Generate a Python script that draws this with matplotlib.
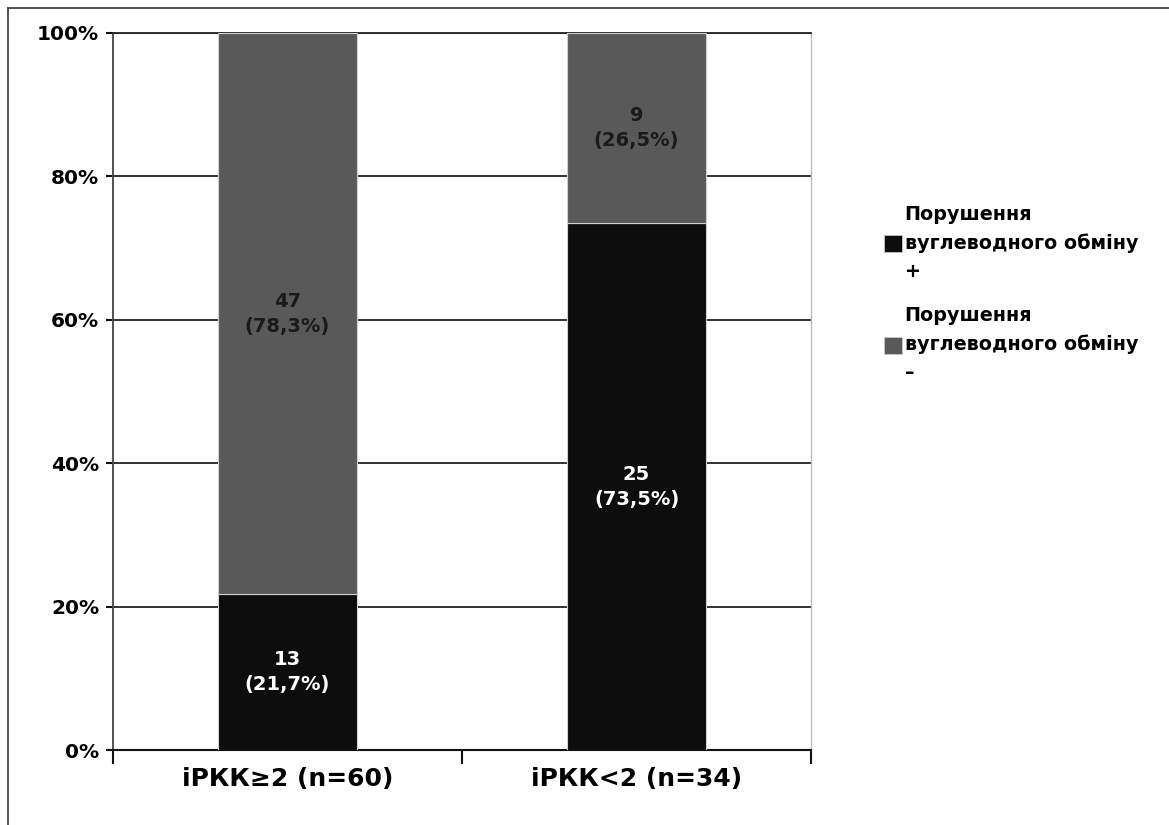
import matplotlib
matplotlib.use("Agg")
import matplotlib.pyplot as plt
from matplotlib.lines import Line2D
from matplotlib.patches import Patch

categories = ["іРКК≥2 (n=60)", "іРКК<2 (n=34)"]
counts_plus = [13, 25]
counts_minus = [47, 9]
pct_plus = [21.7, 73.5]
pct_minus = [78.3, 26.5]
pct_plus_labels = ["21,7%", "73,5%"]
pct_minus_labels = ["78,3%", "26,5%"]
legend_labels = ["Порушення\nвуглеводного обміну\n+", "Порушення\nвуглеводного обміну\n–"]
yticks = [0, 20, 40, 60, 80, 100]

c_plus = "#0d0d0d"
c_minus = "#595959"

plt.rcParams['font.family'] = ['DejaVu Sans']
fig = plt.figure(figsize=(11.69, 8.25), dpi=100)
ax = fig.add_axes([113/1169, 1-750/825, (811-113)/1169, (750-33)/825])

x = list(range(len(categories)))
ax.bar(x, pct_plus, width=0.4, color=c_plus, edgecolor="#cfcfcf", linewidth=0.8, zorder=3)
ax.bar(x, pct_minus, width=0.4, bottom=pct_plus, color=c_minus, edgecolor="#cfcfcf", linewidth=0.8, zorder=3)

for i in x:
    ax.text(i, pct_plus[i]/2, f"{counts_plus[i]}\n({pct_plus_labels[i]})", ha="center", va="center",
            color="white", fontsize=14, fontweight="bold", linespacing=1.4, zorder=4)
    ax.text(i, pct_plus[i] + pct_minus[i]/2, f"{counts_minus[i]}\n({pct_minus_labels[i]})", ha="center", va="center",
            color="#1a1a1a", fontsize=14, fontweight="bold", linespacing=1.4, zorder=4)

ax.set_xlim(-0.5, 1.5)
ax.set_ylim(0, 100)
ax.set_yticks(yticks)
ax.set_yticklabels([f"{v}%" for v in yticks], fontsize=14.5, fontweight="bold")
ax.yaxis.grid(True, color="#222222", linewidth=1.3, zorder=0)
ax.set_axisbelow(True)

ax.set_xticks([-0.5, 0.5, 1.5])
ax.set_xticklabels([])
ax.set_xticks(x, minor=True)
ax.set_xticklabels(categories, minor=True, fontsize=18, fontweight="bold")
ax.tick_params(axis="x", which="major", length=10, width=1.5, direction="out", color="#111111")
ax.tick_params(axis="x", which="minor", length=0, pad=12)
ax.tick_params(axis="y", length=5, width=1.5, color="#111111", pad=5)

ax.spines["left"].set_color("#444444")
ax.spines["left"].set_linewidth(1.3)
ax.spines["bottom"].set_color("#111111")
ax.spines["bottom"].set_linewidth(1.5)
ax.spines["top"].set_color("#222222")
ax.spines["top"].set_linewidth(1.3)
ax.spines["right"].set_color("#bbbbbb")
ax.spines["right"].set_linewidth(1.0)

handles = [Patch(facecolor=c_plus, edgecolor="#cfcfcf", linewidth=0.5),
           Patch(facecolor=c_minus, edgecolor="#cfcfcf", linewidth=0.5)]
fig.legend(handles, legend_labels, loc="upper left", bbox_to_anchor=(876/1169, 1-197/825),
           frameon=False, prop={"size": 13.8, "weight": "bold"}, handlelength=0.95, handleheight=0.95,
           handletextpad=0.15, labelspacing=1.35, borderaxespad=0, borderpad=0.4)
for t in fig.legends[0].get_texts():
    t.set_linespacing(1.6)

# outer chart frame (left and top edges visible)
fig.add_artist(Line2D([8/1169, 8/1169], [0, 1-8/825], transform=fig.transFigure, color="#444444", linewidth=1.3))
fig.add_artist(Line2D([8/1169, 1], [1-8/825, 1-8/825], transform=fig.transFigure, color="#444444", linewidth=1.3))

fig.savefig("out.png", dpi=100)
